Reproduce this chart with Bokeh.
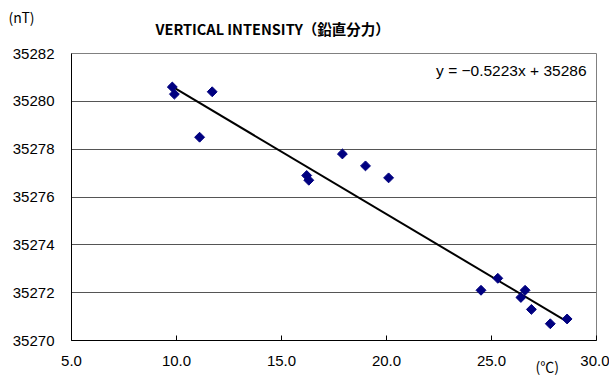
import numpy as np
from bokeh.plotting import figure
from bokeh.models import ColumnDataSource, Label, Range1d, FixedTicker, NumeralTickFormatter, Title
from bokeh.embed import file_html
from bokeh.resources import INLINE

temperature = [9.8, 9.9, 11.7, 11.1, 16.2, 16.3, 17.9, 19.0, 20.1,
               24.5, 25.3, 26.6, 26.4, 26.9, 27.8, 28.6]
intensity = [35280.6, 35280.3, 35280.4, 35278.5, 35276.9, 35276.7, 35277.8, 35277.3, 35276.8,
             35272.1, 35272.6, 35272.1, 35271.8, 35271.3, 35270.7, 35270.9]
slope = -0.5223
intercept = 35285.73
x_ticks = [5, 10, 15, 20, 25, 30]
y_ticks = [35270, 35272, 35274, 35276, 35278, 35280, 35282]

FONT = "Liberation Sans"
CJK = "Noto Sans CJK JP"

p = figure(width=609, height=376, output_backend="svg", toolbar_location=None,
           x_range=Range1d(5, 30), y_range=Range1d(35270, 35282),
           min_border_left=71, min_border_right=13, min_border_top=52, min_border_bottom=36)
p.background_fill_color = "white"
p.border_fill_color = "white"
p.outline_line_color = "#808080"
p.outline_line_width = 1

# outermost title: unit label
p.title.text = "(nT)"
p.title.align = "left"
p.title.offset = -63
p.title.text_font = CJK
p.title.text_font_style = "normal"
p.title.text_font_size = "14px"
p.title.text_color = "black"
p.title.standoff = -52

# main title, closest to the frame
p.add_layout(Title(text="VERTICAL INTENSITY（鉛直分力）", align="left", offset=84,
                   text_font=CJK, text_font_style="bold", text_font_size="14.5px",
                   text_color="black", standoff=30), "above")
p.add_layout(Title(text="(℃)", align="left", offset=464, text_font=CJK,
                   text_font_style="normal", text_font_size="14px", text_color="black",
                   vertical_align="top", standoff=-26), "below")

p.xgrid.grid_line_color = None
p.ygrid.grid_line_color = "#555555"
p.ygrid.grid_line_width = 1

p.xaxis.ticker = FixedTicker(ticks=x_ticks)
p.yaxis.ticker = FixedTicker(ticks=y_ticks)
p.xaxis.formatter = NumeralTickFormatter(format="0.0")
p.yaxis.formatter = NumeralTickFormatter(format="0")
for ax in (p.xaxis, p.yaxis):
    ax.axis_line_color = "black"
    ax.axis_line_width = 1
    ax.major_label_text_font = FONT
    ax.major_label_text_font_size = "15px"
    ax.major_label_text_color = "black"
    ax.minor_tick_line_color = None
p.xaxis.major_tick_in = 5
p.xaxis.major_tick_out = 0
p.xaxis.major_tick_line_color = "black"
p.xaxis.major_label_standoff = 15
p.yaxis.major_tick_in = 0
p.yaxis.major_tick_out = 0
p.yaxis.major_label_standoff = 17

src = ColumnDataSource(dict(x=temperature, y=intensity))
xs = [min(temperature), max(temperature)]
ys = [slope * v + intercept for v in xs]
p.line(xs, ys, line_color="black", line_width=2)
p.scatter("x", "y", source=src, marker="square", angle=np.pi / 4, size=7,
          fill_color="#000080", line_color="#000080")

p.add_layout(Label(x=515, y=270, x_units="screen", y_units="screen",
                   text="y = −0.5223x + 35286", text_font=FONT, text_font_size="15.5px",
                   text_align="right", text_baseline="middle", text_color="black"))

open("out.html", "w").write(file_html(p, INLINE))
